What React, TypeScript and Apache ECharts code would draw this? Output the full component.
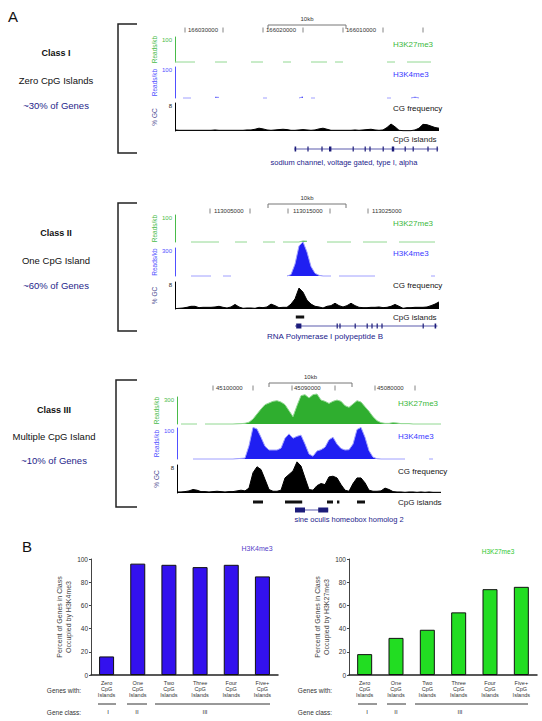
import React, { useEffect, useRef } from 'react';
import * as echarts from 'echarts';

const _ = null;
const FONT = 'Liberation Sans, Arial, Helvetica, sans-serif';

// ---------- Panel A data (67 genomic bins per track, ~0.5 kb each) ----------
const binLabels = Array.from({ length: 67 }, (_v, i) => String(i));

// Class I
const class1K27 = [0,0,0,0,0,0,_,_,_,_,0,0,0,0,_,_,_,_,_,0,0,0,0,_,_,_,_,0,0,0,_,_,_,_,0,0,0,0,0,_,0,0,0,_,_,_,_,_,_,_,_,_,_,0,0,0,_,_,0,0,0,0,0,0,0,_,_];
const class1K4 = [_,_,0,0,0,_,_,_,_,_,3,2,_,_,_,_,_,_,_,_,_,_,0,0,_,_,_,_,_,_,_,0,4,_,0,0,_,_,_,_,_,_,_,_,_,_,_,_,_,_,_,_,_,0,0,_,_,_,_,0,3,0,_,_,_,_,_];
const class1CG = [0.3,0.2,0.2,0.2,0.2,0.2,0.2,0.2,0.2,0.2,
  0.3,0.2,0.2,0.2,0.2,0.2,0.2,0.2,0.3,0.3,
  0.5,0.8,0.6,0.3,0.2,0.3,0.4,0.5,0.4,0.2,
  0.2,0.3,0.4,0.3,0.2,0.3,0.6,0.8,0.5,0.2,
  0.2,0.2,0.2,0.2,0.2,0.3,0.2,0.3,0.4,0.5,
  0.3,0.2,0.3,1.0,2.0,1.2,0.2,0.1,0.1,0.1,
  0.3,0.8,1.9,1.8,1.4,1.0,0.8];

// Class II
const class2K27 = [_,_,_,_,0,0,0,0,0,0,0,0,_,_,_,0,0,0,0,_,_,_,0,0,0,0,_,0,0,0,0,0,4,3,_,_,_,_,0,0,0,0,0,0,0,_,_,0,0,0,0,0,0,0,_,_,0,0,0,0,0,0,0,0,0,0,_];
const class2K4 = [_,_,_,_,0,0,0,0,0,0,_,_,0,0,0,_,_,_,_,_,_,_,_,_,_,_,_,_,0,15,128,322,366,256,102,29,7,0,0,0,_,0,0,0,0,0,0,0,0,0,0,_,_,_,_,_,_,_,_,_,_,_,_,_,0,0,_];
const class2CG = [0.1,0.2,0.3,0.5,0.8,0.8,0.4,0.5,0.5,0.5,
  0.6,0.8,0.5,0.3,0.6,1.35,0.6,0.2,0.3,0.3,
  0.2,0.5,0.4,0.6,1.45,1.0,0.4,0.5,0.5,1.45,
  3.0,6.2,5.0,2.6,1.45,0.8,0.6,0.3,0.8,1.0,
  1.7,1.0,0.6,1.0,1.7,1.0,0.5,0.4,0.4,0.5,
  0.5,0.6,0.4,0.5,0.8,1.35,0.8,0.2,0.4,0.4,
  0.5,0.5,0.5,0.6,1.0,1.45,2.1];

// Class III
const class3K27 = [_,0,0,0,0,0,_,0,0,0,0,0,0,0,0,
  2,4,8,
  20,55,111,166,215,233,252,259,244,215,148,81,
  204,315,326,289,326,333,266,252,229,252,266,252,
  204,185,222,259,244,192,141,81,37,15,7,7,
  15,11,4,4,4,
  0,0,0,0,0,0,0,0];
const class3K4 = [_,_,_,_,0,0,0,0,0,0,0,0,0,0,0,
  1,2,3,
  43,102,97,70,41,29,29,29,35,67,81,67,
  73,77,48,16,9,26,30,38,62,70,48,34,
  29,30,48,95,102,70,27,6,1,
  0,0,0,0,0,0,0,
  _,_,_,_,_,0,0,_,_];
const class3CG = [0.3,0.3,0.4,0.6,1.0,0.8,0.4,0.4,0.3,0.4,
  0.5,0.4,0.3,0.4,0.4,0.6,0.8,0.6,1.4,5.8,
  7.5,6.7,3.9,1.0,0.5,0.5,0.8,4.3,5.3,6.3,
  8.9,7.7,4.3,1.0,0.8,2.1,2.7,2.4,4.6,4.8,
  4.3,2.4,0.8,0.5,2.7,4.3,4.3,2.9,0.8,0.5,
  0.5,0.6,1.4,1.0,0.4,0.3,0.3,0.2,0.3,0.3,
  0.2,0.3,0.2,0.3,0.2,0.2,0.2];

// Track axis maxima (label values)
const trackMax = [100, 100, 8, 100, 300, 8, 300, 100, 8];

// CpG islands and gene models (in bin units)
const class1Islands: number[][] = [];
const class1GeneSpan = [29.8, 65.8];
const class1Exons = [[29.9,30.3],[33.1,33.4],[36.6,36.9],[38.5,39.1],[44.4,44.7],[47.4,47.7],[48.6,48.9],[51.9,52.2],[54.2,54.8],[57.4,57.7],[59.4,59.7],[63.1,63.4],[65.4,65.7]];
const class2Islands = [[30.2, 32.3]];
const class2GeneSpan = [30, 65.6];
const class2Exons = [[30.3,31.6],[40.4,40.7],[41.1,41.4],[44.9,45.2],[47.9,48.2],[49.1,49.4],[50.4,50.7],[51.6,51.9],[61.9,62.2],[64.9,65.3]];
const class3Islands = [[19,21.5],[27,31.3],[37.5,39],[40,40.6],[45,47]];
const class3GeneSpan = [29.5, 37.8];
const class3Exons = [[29.5,32],[35.3,37.8]];

// Texts
const classTitles = ['Class I', 'Class II', 'Class III'];
const classSubtitles = ['Zero CpG Islands', 'One CpG Island', 'Multiple CpG Island'];
const classShares = ['~30% of Genes', '~60% of Genes', '~10% of Genes'];
const class1Coords = ['166030000', '166020000', '166010000'];
const class2Coords = ['113005000', '113015000', '113025000'];
const class3Coords = ['45100000', '45090000', '45080000'];
const geneNames = ['sodium channel, voltage gated, type I, alpha', 'RNA Polymerase I polypeptide B', 'sine oculis homeobox homolog 2'];
const trackNames = ['H3K27me3', 'H3K4me3', 'CG frequency', 'CpG islands'];

// ---------- Panel B data ----------
const geneCategories = ['Zero\nCpG\nIslands', 'One\nCpG\nIslands', 'Two\nCpG\nIslands', 'Three\nCpG\nIslands', 'Four\nCpG\nIslands', 'Five+\nCpG\nIslands'];
const h3k4Percent = [16, 96, 95, 93, 95, 85];
const h3k27Percent = [18, 32, 39, 54, 74, 76];
const geneClassLabels = ['I', 'II', 'III'];

export default function App() {
  const ref = useRef<HTMLDivElement>(null);

  useEffect(() => {
    document.body.style.margin = '0';
    if (!ref.current) return;
    const chart = echarts.init(ref.current, undefined, { renderer: 'svg' });

    const trackData = [class1K27, class1K4, class1CG, class2K27, class2K4, class2CG, class3K27, class3K4, class3CG];
    const trackLayout = [
      { top: 37, height: 25, left: 175 }, { top: 67, height: 31, left: 175 }, { top: 103, height: 28, left: 175 },
      { top: 215, height: 27, left: 175 }, { top: 248, height: 28, left: 175 }, { top: 282, height: 27, left: 175 },
      { top: 397, height: 27, left: 177 }, { top: 428, height: 31, left: 177 }, { top: 465, height: 28, left: 177 },
    ];
    const kindStyle = [
      { fill: '#2fae2f', line: '#92d892', axis: '#49bb49', name: '#49bb49', nameText: 'Reads/kb' },
      { fill: '#1f1ff2', line: '#a0a0ff', axis: '#5050ff', name: '#5050ff', nameText: 'Reads/kb' },
      { fill: '#000000', line: '#000000', axis: '#000000', name: '#4a4a90', nameText: '% GC' },
    ];
    const annotLayout = [
      { top: 139, height: 10, left: 175 }, { top: 317, height: 9, left: 175 }, { top: 502, height: 8, left: 177 },
    ];
    const annotSets = [
      [class1Islands, class1GeneSpan, class1Exons],
      [class2Islands, class2GeneSpan, class2Exons],
      [class3Islands, class3GeneSpan, class3Exons],
    ] as const;

    const grid: any[] = [];
    const xAxis: any[] = [];
    const yAxis: any[] = [];
    const series: any[] = [];

    trackData.forEach((data, k) => {
      const L = trackLayout[k];
      const st = kindStyle[k % 3];
      const max = trackMax[k];
      grid.push({ left: L.left, top: L.top, width: 264, height: L.height });
      xAxis.push({ type: 'category', gridIndex: k, data: binLabels, boundaryGap: false, show: false });
      yAxis.push({
        type: 'value', gridIndex: k, min: 0, max, interval: max,
        splitLine: { show: false }, axisTick: { show: false },
        axisLine: { show: true, lineStyle: { color: st.axis, width: 1 } },
        axisLabel: { show: true, fontSize: 6, fontFamily: FONT, color: st.axis === '#000000' ? '#222' : st.axis, margin: 3, verticalAlign: 'top', formatter: (v: number) => (v === max ? String(max) : '') },
        name: st.nameText, nameLocation: 'middle', nameRotate: 90, nameGap: 17,
        nameTextStyle: { color: st.name, fontSize: 6.5, fontFamily: FONT },
      });
      series.push({
        type: 'line', xAxisIndex: k, yAxisIndex: k, data, symbol: 'none', showSymbol: false,
        connectNulls: false, clip: false, silent: true,
        lineStyle: { width: 1, color: st.line },
        areaStyle: { color: st.fill, opacity: 1 },
      });
    });

    annotSets.forEach(([islands, span, exons], a) => {
      const gi = 9 + a;
      const L = annotLayout[a];
      grid.push({ left: L.left, top: L.top, width: 264, height: L.height });
      xAxis.push({ type: 'value', gridIndex: gi, min: 0, max: 66, show: false });
      yAxis.push({ type: 'value', gridIndex: gi, min: 0, max: 1, inverse: true, show: false });
      const items: number[][] = [];
      (islands as number[][]).forEach(([s, e]) => items.push([s, e, 0, 0]));
      items.push([span[0], span[1], 1, 1]);
      (exons as number[][]).forEach(([s, e]) => items.push([s, e, 1, e - s > 0.45 ? 3 : 2]));
      series.push({
        type: 'custom', xAxisIndex: gi, yAxisIndex: gi, data: items, silent: true,
        renderItem: (_p: any, api: any) => {
          const s = api.value(0), e = api.value(1), row = api.value(2), kind = api.value(3);
          const p1 = api.coord([s, row]);
          const p2 = api.coord([e, row]);
          const h = kind === 0 ? 3 : kind === 1 ? 1 : 5;
          const color = kind === 0 ? '#111' : kind === 1 ? '#5c5cae' : '#1c1c7a';
          return { type: 'rect', shape: { x: p1[0], y: p1[1] - h / 2, width: Math.max(p2[0] - p1[0], 1.2), height: h }, style: { fill: color } };
        },
      });
    });

    const barDefs = [
      { left: 91, width: 187, data: h3k4Percent, color: '#3311ee', title: 'Percent of Genes in Class\nOccupied by H3K4me3' },
      { left: 349, width: 188, data: h3k27Percent, color: '#22dd22', title: 'Percent of Genes in Class\nOccupied by H3K27me3' },
    ];
    barDefs.forEach((b, j) => {
      const gi = 12 + j;
      grid.push({ left: b.left, top: 559, width: b.width, height: 116 });
      xAxis.push({
        type: 'category', gridIndex: gi, data: geneCategories,
        axisLine: { lineStyle: { color: '#222', width: 1.5 } }, axisTick: { show: false },
        axisLabel: { interval: 0, fontSize: 5.5, lineHeight: 5.8, color: '#333', fontFamily: FONT, margin: 5 },
      });
      yAxis.push({
        type: 'value', gridIndex: gi, min: 0, max: 100, interval: 20,
        splitLine: { show: false },
        axisLine: { show: true, lineStyle: { color: '#444', width: 1 } },
        axisTick: { show: true, length: 2, lineStyle: { color: '#444' } },
        axisLabel: { fontSize: 6.5, color: '#333', fontFamily: FONT, margin: 3 },
        name: b.title, nameLocation: 'middle', nameRotate: 90, nameGap: 17,
        nameTextStyle: { fontSize: 7, lineHeight: 9, color: '#444', fontFamily: FONT },
      });
      series.push({
        type: 'bar', xAxisIndex: gi, yAxisIndex: gi, data: b.data, barWidth: 15, silent: true,
        itemStyle: { color: b.color, borderColor: '#111', borderWidth: 1 },
      });
    });

    const txt = (x: number, y: number, text: string, o: any = {}) => ({
      type: 'text', x, y, silent: true,
      style: {
        text, fill: o.color ?? '#111', fontSize: o.size ?? 8, fontFamily: FONT, fontWeight: o.weight ?? 'normal',
        align: o.align ?? 'left', verticalAlign: 'middle', textAlign: o.align ?? 'left', textVerticalAlign: 'middle',
      },
    });
    const ln = (x1: number, y1: number, x2: number, y2: number, color = '#555', w = 1) => ({
      type: 'line', silent: true, shape: { x1, y1, x2, y2 }, style: { stroke: color, lineWidth: w },
    });

    const g: any[] = [];
    g.push(txt(8, 16, 'A', { size: 15 }));
    g.push(txt(22, 546, 'B', { size: 15 }));

    // Left class descriptions and brackets
    const classY = [[53, 80, 105], [233, 260, 285], [410, 436, 460]];
    const classX = [56, 56, 54];
    const brackets = [[118, 24, 153], [118, 203, 331], [116, 380, 507]];
    classY.forEach((ys, c) => {
      g.push(txt(classX[c], ys[0], classTitles[c], { size: 9, weight: 'bold', align: 'center' }));
      g.push(txt(classX[c], ys[1], classSubtitles[c], { size: 9.5, align: 'center' }));
      g.push(txt(classX[c], ys[2], classShares[c], { size: 9.5, align: 'center', color: '#1e1e8a' }));
      const [bx, bt, bb] = brackets[c];
      g.push({ type: 'polyline', silent: true, shape: { points: [[137, bt], [bx, bt], [bx, bb], [137, bb]] }, style: { stroke: '#222', lineWidth: 1.5, fill: null } });
    });

    // Scale bars
    const scaleBars = [[268, 346, 25], [268, 346, 204], [269, 352, 383]];
    scaleBars.forEach(([x1, x2, y]) => {
      g.push({ type: 'polyline', silent: true, shape: { points: [[x1, y + 4], [x1, y], [x2, y], [x2, y + 4]] }, style: { stroke: '#777', lineWidth: 1, fill: null } });
      g.push(txt((x1 + x2) / 2, y - 6, '10kb', { size: 6, align: 'center', color: '#333' }));
    });

    // Base-position rulers
    const rulers = [
      { y: 30, ticks: [185, 223, 263, 303, 343, 383, 423], labels: class1Coords, lx: [188, 266, 346] },
      { y: 211, ticks: [210, 250, 288, 330, 368], labels: class2Coords, lx: [214, 293, 372] },
      { y: 388, ticks: [213, 253, 292, 335, 375, 415], labels: class3Coords, lx: [216, 294, 377] },
    ];
    rulers.forEach((r) => {
      r.ticks.forEach((tx) => g.push(ln(tx, r.y - 2.5, tx, r.y + 2.5, '#666', 0.8)));
      r.labels.forEach((t, i) => g.push(txt(r.lx[i], r.y, t, { size: 6, color: '#333' })));
    });

    // Track labels on the right
    const rightLabels = [
      { x: 393, ys: [44, 74, 108, 139] },
      { x: 393, ys: [223, 253, 285, 317] },
      { x: 398, ys: [403, 436, 471, 502] },
    ];
    const rightColors = ['#3cb83c', '#3a3aff', '#111', '#222'];
    rightLabels.forEach((r) => {
      r.ys.forEach((y, i) => g.push(txt(r.x, y, trackNames[i], { size: 8, color: rightColors[i] })));
    });

    // Gene names
    const geneNamePos = [[344, 162, 7.5], [325, 336, 8], [349, 519, 7.5]];
    geneNamePos.forEach(([x, y, s], i) => g.push(txt(x, y, geneNames[i], { size: s, align: 'center', color: '#23238c' })));

    // Panel B annotations
    g.push(txt(257, 548, 'H3K4me3', { size: 7, align: 'center', color: '#5540c8' }));
    g.push(txt(498, 551, 'H3K27me3', { size: 6.5, align: 'center', color: '#2ec82e' }));
    const bAnn = [
      { cx: 64, lines: [[98, 116], [127, 147], [155, 270]], lab: [108, 137, 205] },
      { cx: 315, lines: [[358, 377], [387, 406], [415, 528]], lab: [367, 396, 460] },
    ];
    bAnn.forEach((b) => {
      g.push(txt(b.cx, 690, 'Genes with:', { size: 6.5, align: 'center', color: '#333' }));
      g.push(txt(b.cx, 712, 'Gene class:', { size: 6.5, align: 'center', color: '#333' }));
      b.lines.forEach(([x1, x2]) => g.push(ln(x1, 704, x2, 704, '#333', 1)));
      b.lab.forEach((x, i) => g.push(txt(x, 712, geneClassLabels[i], { size: 6, align: 'center', color: '#333' })));
    });

    chart.setOption({
      animation: false,
      backgroundColor: '#ffffff',
      grid, xAxis, yAxis, series,
      graphic: g,
    });

    return () => chart.dispose();
  }, []);

  return <div ref={ref} style={{ width: 542, height: 721 }} />;
}
